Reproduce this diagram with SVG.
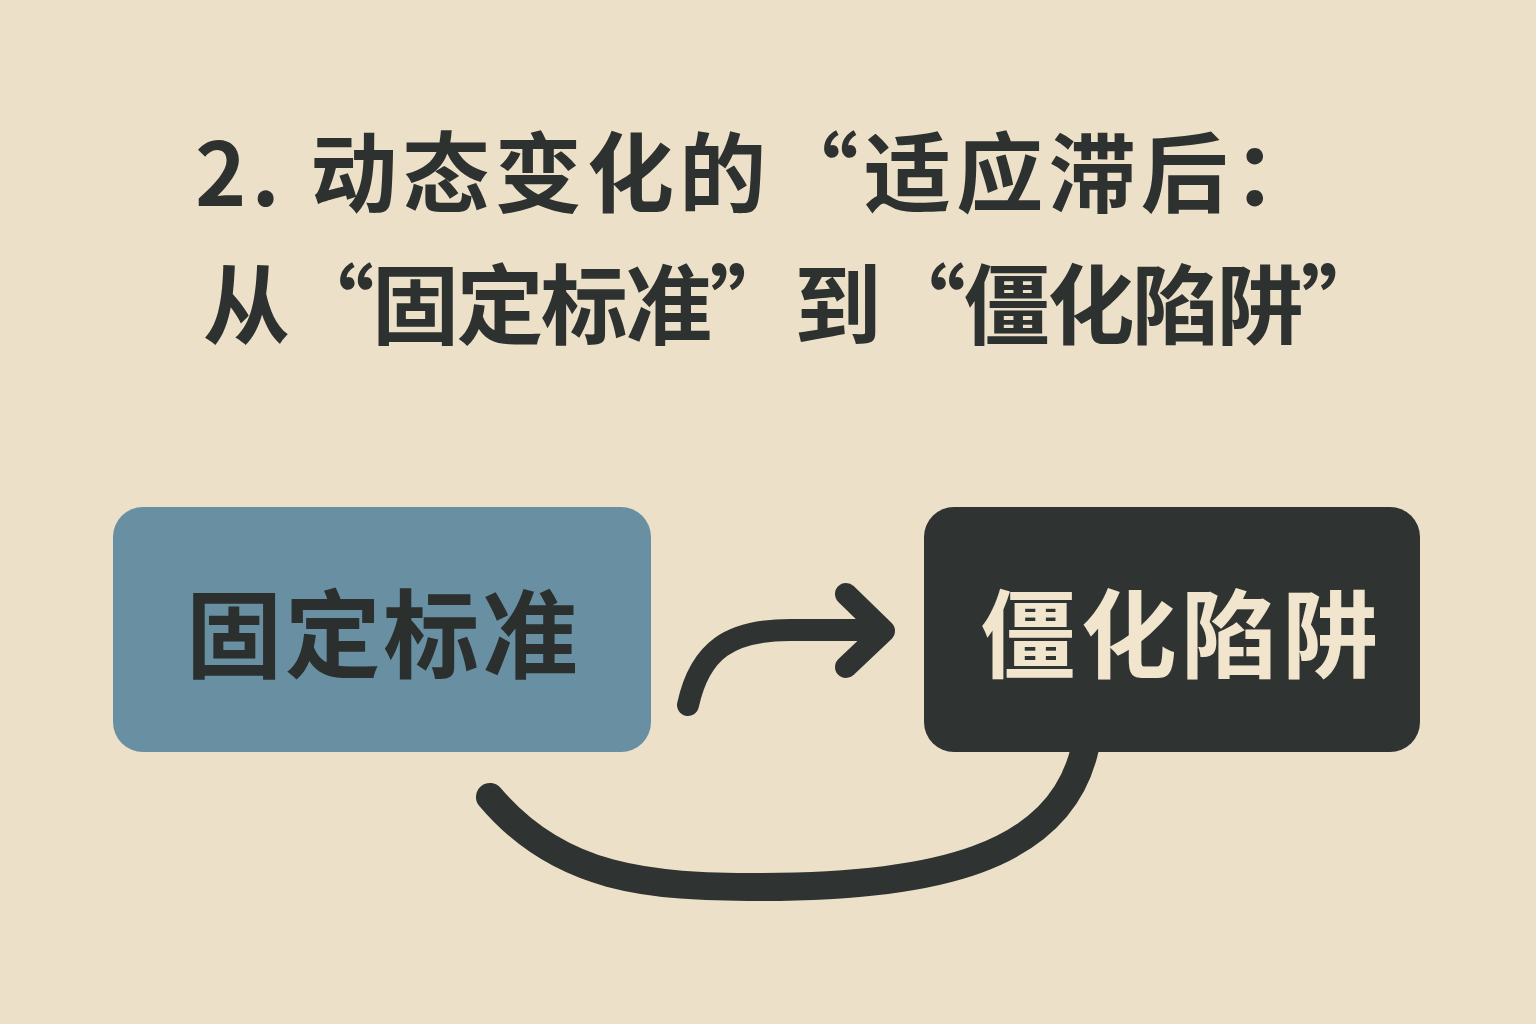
<svg xmlns="http://www.w3.org/2000/svg" width="1536" height="1024" viewBox="0 0 1536 1024">
<style>
.t{font-family:"Noto Sans CJK SC","Noto Sans",sans-serif;font-weight:700;fill:#2d3230}
.lbl{font-family:"Noto Sans CJK SC","Noto Sans",sans-serif;font-weight:700;font-size:96px;text-anchor:middle}
.con{fill:none;stroke:#2f3432;stroke-linecap:round;stroke-linejoin:round}
</style>
<rect width="1536" height="1024" fill="#ede0c8"/>
<g id="title">
<text class="t" x="195" y="206" font-size="87" textLength="1125" lengthAdjust="spacing">2. 动态变化的“适应滞后：</text>
<text class="t" x="203" y="338" font-size="87" textLength="1185" lengthAdjust="spacing">从“固定标准”到“僵化陷阱”</text>
</g>
<g id="connectors">
<path class="con" stroke-width="28" d="M490 797 C560 880 650 887 760 887 C930 887 1060 860 1085 748"/>
<path class="con" stroke-width="22" d="M688 705 C700 650 730 630 790 630 L882 630"/>
<path class="con" stroke-width="22" d="M846 594 L884 631 L846 667"/>
</g>
<g id="node-fixed">
<rect x="113" y="507" width="538" height="245" rx="30" fill="#6890a2"/>
<text class="lbl" x="382" y="670" fill="#2b2f2e" textLength="392" lengthAdjust="spacing">固定标准</text>
</g>
<g id="node-rigid">
<rect x="924" y="507" width="496" height="245" rx="30" fill="#2f3432"/>
<text class="lbl" x="1179" y="670" fill="#f1e5cd" textLength="398" lengthAdjust="spacing">僵化陷阱</text>
</g>
</svg>
